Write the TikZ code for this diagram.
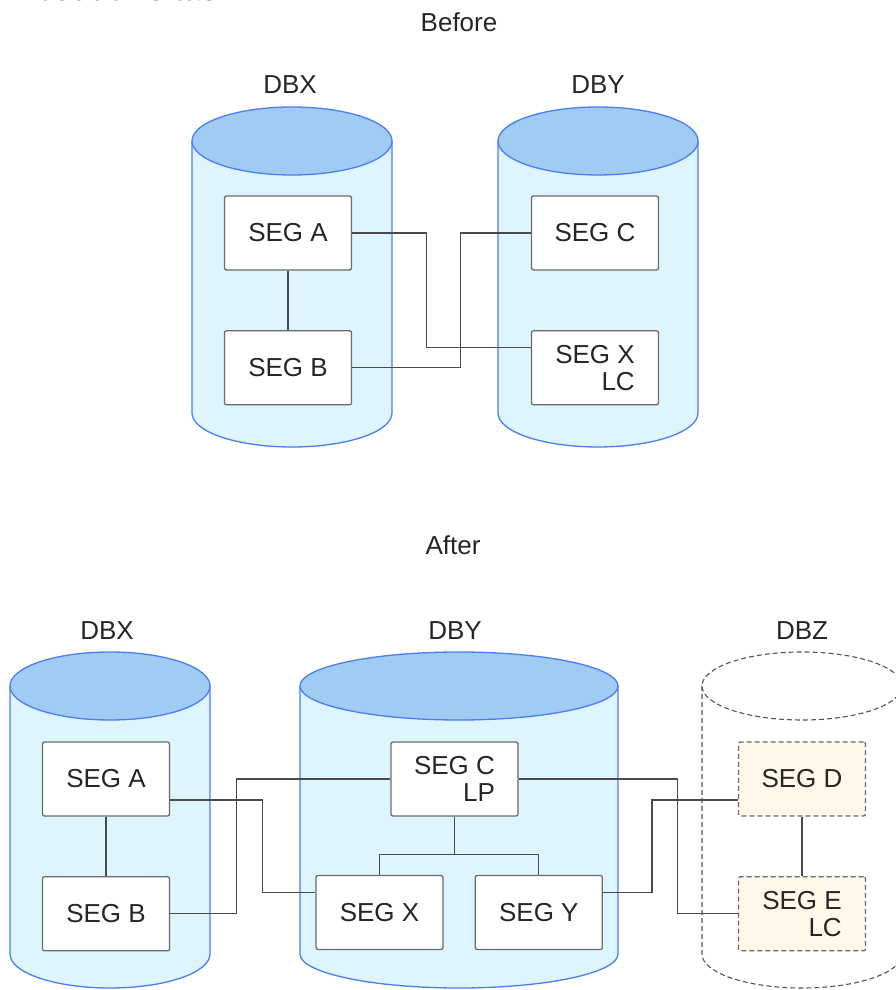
\documentclass[tikz,border=0pt]{standalone}
\usepackage{fontspec}
\setsansfont{Liberation Sans}
\usetikzlibrary{
  calc,
  positioning
}
\definecolor{drumline}{HTML}{4A7DF6}
\definecolor{drumfill}{HTML}{DEF5FD}
\definecolor{drumcap}{HTML}{A0CCF4}
\definecolor{boxline}{HTML}{6B6B6B}
\definecolor{wire}{HTML}{4A4A4A}
\definecolor{newfill}{HTML}{FFF7E8}
\definecolor{ghost}{HTML}{555555}

% database drum: centre x, top y, bottom y, x radius, body style, cap style
\newcommand{\dbcan}[6]{%
  \path[#5] (#1-#4,#2) -- (#1-#4,#3)
    arc[start angle=180, end angle=360, x radius=#4, y radius=34] -- (#1+#4,#2);
  \path[#6] (#1,#2) ellipse[x radius=#4, y radius=34];
}

\begin{document}
\begin{tikzpicture}[
  x=1pt, y=1pt,
  font=\sffamily\fontsize{26}{27}\selectfont,
  drum/.style={
    draw=drumline,
    line width=1.3pt,
    fill=drumfill
  },
  drumtop/.style={
    drum,
    fill=drumcap
  },
  ghostdrum/.style={
    draw=ghost,
    line width=1.1pt,
    dash pattern=on 5pt off 3pt,
    fill=white
  },
  seg/.style={
    draw=boxline,
    line width=1.3pt,
    rounded corners=2pt,
    fill=white,
    minimum width=127pt,
    minimum height=74pt,
    inner sep=0pt,
    align=right,
    text=black!85
  },
  newseg/.style={
    seg,
    fill=newfill,
    dash pattern=on 5pt off 3pt
  },
  dblabel/.style={
    anchor=base,
    text=black!85
  },
  link/.style={
    draw=wire,
    line width=1.3pt
  }
]
\useasboundingbox (0,0) rectangle (896,990);

\node[anchor=base west, font=\sffamily\bfseries\fontsize{31}{34}\selectfont] (task) at (8,989.5) {About this task};

% Before
\node[dblabel] (before) at (459,958) {Before};
\node[dblabel] (bdbx) at (290,896) {DBX};
\node[dblabel] (bdby) at (598,896) {DBY};

\dbcan{292}{849}{577}{100}{drum}{drumtop}
\dbcan{598}{849}{577}{100}{drum}{drumtop}

\node[seg] (bA) at (288,757) {SEG A};
\node[seg, below=59.5pt of bA] (bB) {SEG B};
\node[seg] (bC) at (595,757) {SEG C};
\node[seg, below=59.5pt of bC] (bX) {SEG X\\LC};

\draw[link] (bA) -- (bB);
\draw[link] (bA.east) -- ++(74,0) |- ([yshift=20]bX.west);
\draw[link] (bB.east) -- ++(108,0) |- (bC.west);

% After
\node[dblabel] (after) at (453,435) {After};
\node[dblabel] (adbx) at (107,350) {DBX};
\node[dblabel] (adby) at (455,350) {DBY};
\node[dblabel] (adbz) at (802,350) {DBZ};

\dbcan{110}{304}{36}{100}{drum}{drumtop}
\dbcan{459}{304}{36}{159}{drum}{drumtop}
\dbcan{802}{304}{36}{100}{ghostdrum}{ghostdrum}

\node[seg] (aA) at (106,211) {SEG A};
\node[seg, below=59.5pt of aA] (aB) {SEG B};
\node[seg] (aC) at (454.5,211) {SEG C\\LP};
\node[seg] (aX) at (379.5,77.5) {SEG X};
\node[seg, right=31pt of aX] (aY) {SEG Y};
\node[newseg] (aD) at (802,211) {SEG D};
\node[newseg, below=59.5pt of aD] (aE) {SEG E\\LC};

\draw[link] (aA) -- (aB);
\draw[link] ([yshift=-21]aA.east) -- ++(92,0) |- ([yshift=20]aX.west);
\draw[link] (aB.east) -- ++(66,0) |- (aC.west);
\draw[link] (aC.south) -- ++(0,-38) coordinate (fork) -| (aX.north);
\draw[link] (fork) -| (aY.north);
\draw[link] (aC.east) -- ++(159,0) |- (aE.west);
\draw[link] ([yshift=20]aY.east) -- ++(49,0) |- ([yshift=-21]aD.west);
\draw[link] (aD) -- (aE);

\end{tikzpicture}
\end{document}
